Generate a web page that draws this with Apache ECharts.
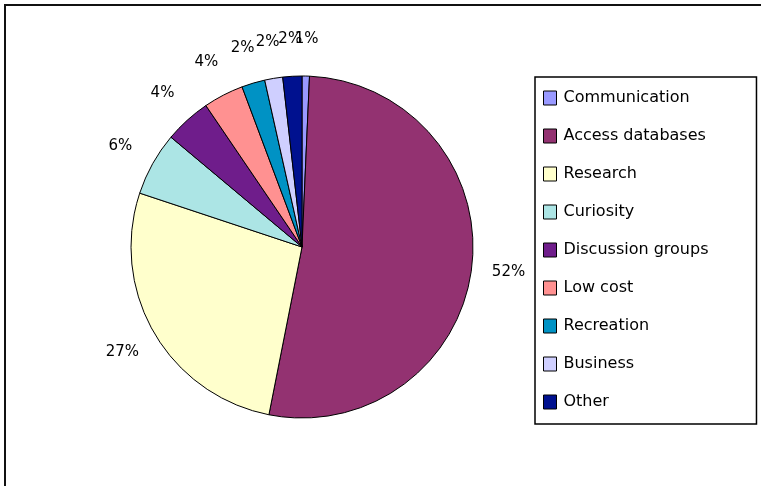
<!DOCTYPE html>
<html><head><meta charset="utf-8">
<script src="https://cdn.jsdelivr.net/npm/echarts@6/dist/echarts.min.js"></script>
<style>html,body{margin:0;padding:0;background:#fff}#c{width:761px;height:486px}</style>
</head><body><div id="c"></div>
<script>
const categories = ['Communication','Access databases','Research','Curiosity','Discussion groups','Low cost','Recreation','Business','Other'];
const values = [0.7, 52.4, 27.0, 6.0, 4.4, 3.8, 2.2, 1.7, 1.8];
const colors = ['#9999ff','#933271','#ffffcc','#ace5e5','#6f1d8b','#ff9191','#0092c4','#cfcfff','#00118f'];

const CX = 302, CY = 247, R = 171, LR = 208;
const total = values.reduce((a, b) => a + b, 0);
const mids = []; let acc = 0;
values.forEach(v => { mids.push(acc + v / 2); acc += v; });

const chart = echarts.init(document.getElementById('c'), null, {renderer: 'canvas'});
chart.setOption({
  animation: false,
  backgroundColor: '#fff',
  color: colors,
  graphic: [{
    type: 'rect', silent: true,
    shape: {x: 5, y: 5, width: 2000, height: 2000},
    style: {fill: 'none', stroke: '#111', lineWidth: 2}
  }],
  legend: {
    orient: 'vertical', left: 535, top: 77,
    data: categories, icon: 'rect',
    itemWidth: 13, itemHeight: 14, itemGap: 22,
    padding: [13, 48, 14, 8],
    borderColor: '#000', borderWidth: 1.5,
    selectedMode: false,
    textStyle: {fontFamily: 'DejaVu Sans', fontSize: 16, color: '#000', padding: [0, 0, 0, 2]},
    itemStyle: {borderColor: '#000', borderWidth: 1}
  },
  series: [{
    type: 'pie',
    center: [CX, CY], radius: R,
    startAngle: 90, clockwise: true,
    percentPrecision: 0,
    avoidLabelOverlap: false,
    itemStyle: {borderColor: '#000', borderWidth: 1},
    emphasis: {disabled: true},
    label: {show: true, position: 'outside', formatter: '{d}%', fontFamily: 'DejaVu Sans', fontSize: 15, color: '#000'},
    labelLine: {show: false, length: 10, length2: 0},
    labelLayout: function (p) {
      const a = mids[p.dataIndex] / total * 2 * Math.PI;
      return {x: CX + LR * Math.sin(a), y: CY - LR * Math.cos(a), align: 'center', verticalAlign: 'middle'};
    },
    data: categories.map((n, i) => ({name: n, value: values[i]}))
  }]
});
</script></body></html>
